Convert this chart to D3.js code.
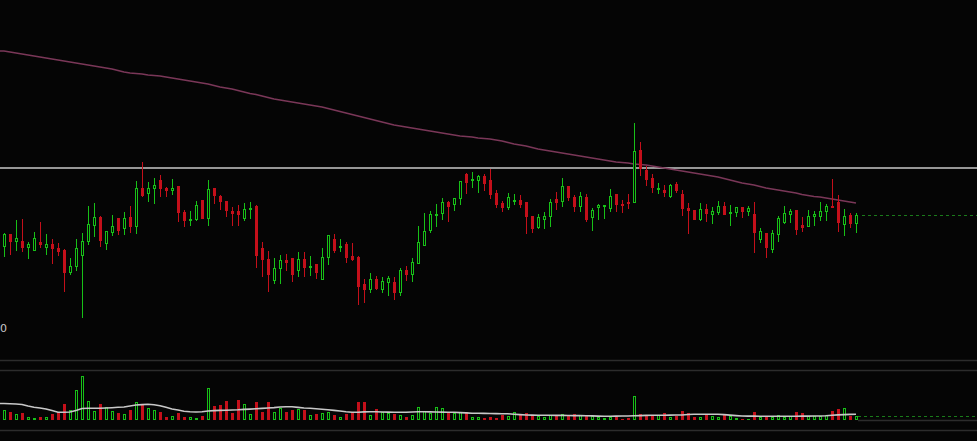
<!DOCTYPE html>
<html><head><meta charset="utf-8">
<script src="https://cdn.jsdelivr.net/npm/d3@7"></script>
<style>html,body{margin:0;padding:0;background:#050505;overflow:hidden}</style>
</head><body><svg id="c" width="977" height="441"></svg>
<script>
const opens  = [94.3,105.7,99,98.7,92.7,90.3,98,93.3,96,92, 90,68,73.7,85.3,98.7,115.3,122.7,97.3,108.3,121.7,
 111.7,122.7,113.7,151.7,146.7,151.7,159.7,152,149.7,154, 128.3,120,120.7,139.7,121.7,151.7,143.7,138.7,129,129,
 122.3,130.7,134,91.7,81,60.3,71.7,79.7,81.7,70.3, 81,73.3,75.7,61.3,83,101,93.3,96,84,83,
 56,51.3,61,51,58.3,58,48,70.3,66.3,77.3, 95.3,110.3,125.3,126.7,138,135.7,141.7,165.7,160.3,160.3,
 164,160,147,137,133,139,139.7,137.7,123.7,112.7, 121.3,123.7,141,138.7,153.7,143,134.3,143,122.7,133,
 134.3,131.7,146,136.3,138,137.7,189.7,169.7,161.7,151, 150,143.7,156,146.5,132,130,121.3,130.7,126.3,128,
 133.7,127,127.7,132.7,128.7,126,101.3,107,91.3,106, 117.7,125.7,129.7,115,114.3,124,124,128.7,134,138,
 115.7,125,117.3];
const highs  = [106.7,106,119.7,120.7,97.7,107.7,117.7,106,100.7,97.3, 91.3,81.7,100.7,107.3,133.7,136.7,123.7,108.7,124.7,122.3,
 128,134.3,158.7,177.7,157.7,161.7,164.7,153,161,154, 129.7,128.7,138.7,139.7,159.7,152,145.3,138.7,132.7,135.3,
 136.7,138,135.3,97.7,88.7,81.7,85,86,82,87.7, 87.7,84,75.7,91.7,105,106.3,100.7,97.7,97,84,
 61,66.7,63.7,62.7,64.3,62.7,72.3,74,81.7,113.7, 126.7,129,135.7,141.7,138.7,142.3,159.3,167.3,167.7,165.3,
 166.3,171,150.3,139,147.3,145.7,145.3,137.7,123.7,125.7, 127.7,140.7,148.3,161.7,154.3,145,147.7,146.3,131.7,136.3,
 135,151,146,139.7,145.7,216.7,198.3,174.3,166.3,156.7, 155,155.7,157.7,149.8,136.7,130,137,136,133,139,
 138.3,135,133,132.7,134.3,138.3,112,107,109.7,124.3, 133.7,131,129.7,122.7,130,128.7,137.7,136.3,161,144.7,
 131,127.3,127];
const lows   = [84,86,90,89.3,81.7,90,93.3,85.7,76.7,85, 48.7,65.7,69.7,22.7,95.7,104,94,90.7,105.3,105.7,
 106.3,107.7,106.7,143.7,138.7,136.7,143.7,143.7,145.7,119, 113.7,114.7,120.3,121.7,114.7,136.7,130.7,124.3,114.7,114.7,
 119.7,122.3,72.7,63.7,48.7,57,57.3,69.7,58.7,64.3, 64.3,65,61.7,60.7,76.3,88.3,89.3,78.3,79.7,36.3,
 37.7,48.3,51.3,48,44.7,41.3,45.3,60.3,59,77.3, 95,107.7,114.3,121.3,119,130,136.3,146.7,152.7,147.7,
 150.3,142,132.7,128.7,130.7,135.7,132.7,106.7,108.3,112.3, 112.3,113.7,130.7,133.7,140.3,129.3,128.7,118.7,110,120.7,
 121.7,128.7,128.7,127.7,132.3,137.7,164.7,154.7,147.7,147, 143.7,143.3,147.7,125.5,106.7,121,120,118.7,116.7,126.3,
 126,115.3,123.7,123,125.3,87.7,97.7,82.7,88,98.7, 117,118.3,105.7,109,114,115.3,119.7,120,133.3,108.7,
 104.7,112.7,108];
const closes = [106,99.3,101.7,93.3,96,101.7,96,96,92,89.3, 68.3,74,91.7,98.7,115.7,122.7,100.3,108.7,113.7,110.3,
 122.3,114.3,151.7,144.7,151.7,154.7,151.7,149.7,152,128.3, 120.3,121.3,135,122.3,151,144.7,138.7,129.7,127.3,126.3,
 131,132.3,85,80.7,65.7,71.7,79.7,78.3,66.3,80.7, 72.7,74,68.3,83,105,90,94,83.3,81,53.7,
 51.3,61,52,59,62,48.3,70,66,77.7,97.7, 108.7,126,126.3,138,133.7,141.7,158.7,158,161,163.7,
 156.7,146.3,136.3,133.3,142.7,139.7,136.3,123.7,112.3,122.7, 123.7,137.7,138.3,153.7,142.7,134.3,143.7,121.3,130.3,135,
 134.7,143.7,135.7,134.7,137.3,188.7,172.3,161,152.7,151.7, 147.7,155.3,149.7,131.7,129.7,121.3,130.7,126.7,129,134,
 126.3,127.7,132.7,129,132,107.7,109,93.3,107,121.7, 127,129,110.7,113,123.7,125.7,128.7,134.3,133.3,118.3,
 123.7,116.7,125];
const maLong = [289,288,287,286,285,284,283,282,281,280, 279,278,277,276,275,274,273,272,271,269.5,
 268,267,266.5,266,265,264.5,264,263,262,261, 260,259,258,257,256,254.5,253,252,251,249.5,
 248,246.5,245.5,244,242.5,241,240,239,238,237, 236,235,234,233,231.5,230,228.5,227,225.5,224,
 222.5,221,219.5,218,216.5,215,214,213,212,211, 210,209,208,207,206,205,204,203.5,203,202,
 201.5,201,200,199,197.5,196,195,194,192.5,191, 190,189,188,187,186,185,184,183,182,181,
 180,179,178,177.5,177,176,175.5,175,174,173, 172,171,170,169,168,167,166,165,164,163,
 161.5,160,158.5,157,156,155,153.5,152,151,150, 149,148,147,145.5,144.5,143.5,143,142,141,140,
 139,138,137];
const volumes = [10,8,5.7,7,3,2,3.3,3,6,7.7, 16,10,30,44,19,9,16,13,9,7,
 5.7,10,18,16,12,10,8,3,4,7, 3,3,2,4,32,14,15,19,7,20,
 16,6,18,8,18,8,12,8,10,11, 10,5,6,7,8,5,3,6,7,18,
 18,5,11,8,7,6,5,3,5,13, 9,7,13,12,7,7,8,8,3,3,
 2,3,2,5,4,8,5,7,4,4, 3,5,4,6,4,6,5,4,4,3,
 2,3,3,1,2,24,6,4,4,5, 7,3,4,9,7,3,3,5,4,3,
 6,4,2,1,1,8,3,4,3,5, 3,4,8,7,4,4,4,5,9,11,
 12,4,4];
const volMA = [16.5,16.2,16,15.5,14,12.7,12,11,9.5,7.7, 7.7,8,9.5,11.5,11.7,11.7,11.7,12,12.3,12.7,
 13,14,15,15.4,15.7,15.2,14.3,12.7,11,10, 8.8,8.2,8,8.2,9,9.4,9.6,9.8,10,10.2,
 10.6,10.9,11.2,11.6,12,12.4,13,13.2,13.2,12.6, 12,11.7,11.2,10.8,10.2,9.6,9,8.2,7.7,7.8,
 8.1,8.3,8.2,8,7.9,7.8,7.7,7.8,8,8.2, 8.2,8.1,8,7.9,7.8,7.7,7.4,7.1,6.8,6.7,
 6.6,6.5,6.4,6.3,6.2,5.8,5.4,5,4.9,4.8, 4.7,4.7,4.6,4.6,4.5,4.4,4.4,4.3,4.1,3.9,
 3.7,3.8,3.9,4,4,4.2,4.4,4.6,4.7,4.8, 4.8,4.9,5,5,5.5,5.7,5.7,5.7,5.7,5.7,
 5.4,4.9,4.4,4,3.9,3.9,3.8,3.7,3.7,3.7, 3.7,3.8,3.8,3.9,3.9,4,4,4.2,4.7,5.1,
 5.4,5.6,5.7];
const refLevel = 172;
const axisLabels = ["0"];

const W = 977, H = 441;
const BG = "#050505", UP = "#17c017", DOWN = "#c40f1a";
const n = closes.length;
const svg = d3.select("#c");
svg.append("rect").attr("width", W).attr("height", H).attr("fill", BG);

const x = d3.scaleLinear().domain([0, n - 1]).range([4, 4 + 6 * (n - 1)]);
const y = d3.scaleLinear().domain([0, 340]).range([340, 0]);
const yv = d3.scaleLinear().domain([0, 50]).range([420, 370]);

// panel separators
[360.5, 370.5, 430.5].forEach(v => svg.append("line").attr("x1", 0).attr("x2", W)
  .attr("y1", v).attr("y2", v).attr("stroke", "#2c2c2c").attr("stroke-width", 1.3));
svg.append("line").attr("x1", x(n - 1) + 2).attr("x2", W).attr("y1", 420.5).attr("y2", 420.5)
  .attr("stroke", "#2c2c2c").attr("stroke-width", 1.3);

// reference level
svg.append("line").attr("x1", 0).attr("x2", W).attr("y1", y(refLevel)).attr("y2", y(refLevel))
  .attr("stroke", "#c8c8c8").attr("stroke-width", 1.3);

// line generator: first point extended to the left edge of the plot
const lineFor = (scale) => d3.line().x((d, i) => i === 0 ? 0 : x(i - 1)).y(d => scale(d));
const withLead = arr => [arr[0]].concat(arr);

// long MA
svg.append("path").attr("d", lineFor(y)(withLead(maLong))).attr("fill", "none")
  .attr("stroke", "#7a3758").attr("stroke-width", 1.6);

// candles
const data = closes.map((c, i) => ({i, o: opens[i], h: highs[i], l: lows[i], c, v: volumes[i]}));
const g = svg.append("g").attr("shape-rendering", "crispEdges");
data.forEach(d => {
  const cx = Math.round(x(d.i));
  const up = d.c >= d.o;
  const col = up ? UP : DOWN;
  g.append("line").attr("x1", cx + 0.5).attr("x2", cx + 0.5)
    .attr("y1", Math.round(y(d.h))).attr("y2", Math.round(y(d.l)) + 1).attr("stroke", col);
  const top = Math.round(y(Math.max(d.o, d.c)));
  const bot = Math.round(y(Math.min(d.o, d.c)));
  const hgt = bot - top;
  if (hgt < 2) {
    g.append("rect").attr("x", cx - 1).attr("y", top).attr("width", 3).attr("height", Math.max(1, hgt + 1)).attr("fill", col);
  } else if (up) {
    g.append("rect").attr("x", cx - 0.5).attr("y", top + 0.5).attr("width", 2).attr("height", hgt)
      .attr("fill", BG).attr("stroke", col);
  } else {
    g.append("rect").attr("x", cx - 1).attr("y", top).attr("width", 3).attr("height", hgt + 1).attr("fill", col);
  }
  // volume
  const vt = Math.round(yv(d.v));
  const vh = 420 - vt;
  if (up && vh >= 2) {
    g.append("rect").attr("x", cx - 0.5).attr("y", vt + 0.5).attr("width", 2).attr("height", vh - 1)
      .attr("fill", BG).attr("stroke", col);
  } else {
    g.append("rect").attr("x", cx - 1).attr("y", vt).attr("width", 3).attr("height", Math.max(1, vh)).attr("fill", col);
  }
});

// volume MA
svg.append("path").attr("d", lineFor(yv)(withLead(volMA)))
  .attr("fill", "none").attr("stroke", "#c8c8c8").attr("stroke-width", 1.6);

// last price / last volume dotted lines
svg.append("line").attr("x1", x(n - 1) + 6).attr("x2", W)
  .attr("y1", Math.round(y(closes[n - 1])) + 0.5).attr("y2", Math.round(y(closes[n - 1])) + 0.5)
  .attr("stroke", "#1a7a1a").attr("stroke-dasharray", "3,3");
svg.append("line").attr("x1", x(n - 1) + 2).attr("x2", W)
  .attr("y1", Math.round(yv(volumes[n - 1])) + 0.5).attr("y2", Math.round(yv(volumes[n - 1])) + 0.5)
  .attr("stroke", "#1a7a1a").attr("stroke-dasharray", "3,3");

svg.append("text").attr("x", 0).attr("y", 332).attr("fill", "#c8c8c8")
  .attr("font-family", "DejaVu Sans, sans-serif").attr("font-size", 11).text(axisLabels[0]);
</script></body></html>
